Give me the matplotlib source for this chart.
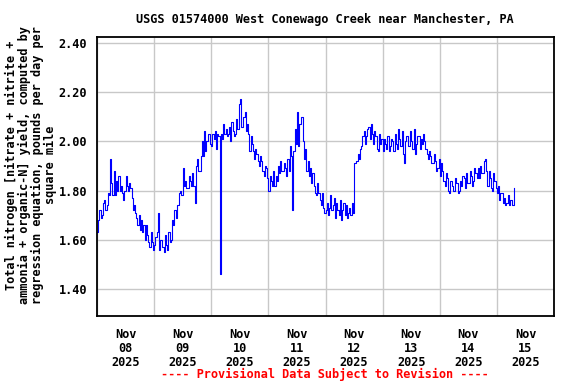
import matplotlib
matplotlib.use("Agg")
import matplotlib.pyplot as plt
import matplotlib.dates as mdates
import pandas as pd

# half-hourly values, one row per hour
nov08 = [1.63, 1.68, 1.72, 1.69, 1.70, 1.75, 1.76, 1.72, 1.74, 1.79, 1.78, 1.93,
         1.83, 1.78, 1.88, 1.78, 1.84, 1.80, 1.86, 1.80, 1.82, 1.79, 1.76, 1.80,
         1.86, 1.82, 1.80, 1.83, 1.81, 1.77, 1.72, 1.74, 1.71, 1.69, 1.66, 1.70,
         1.64, 1.68, 1.63, 1.66, 1.60, 1.66, 1.62, 1.59, 1.57, 1.63, 1.59, 1.56]
nov09 = [1.58, 1.61, 1.63, 1.71, 1.56, 1.60, 1.60, 1.57, 1.55, 1.62, 1.58, 1.56,
         1.63, 1.59, 1.60, 1.68, 1.66, 1.72, 1.69, 1.74, 1.74, 1.79, 1.80, 1.78,
         1.89, 1.82, 1.84, 1.81, 1.81, 1.86, 1.84, 1.82, 1.87, 1.82, 1.75, 1.90,
         1.93, 1.88, 1.88, 1.94, 2.00, 1.94, 2.04, 1.96, 2.00, 2.03, 2.03, 1.99]
nov10 = [1.98, 2.03, 2.01, 2.04, 1.97, 2.03, 2.02, 1.46, 2.03, 2.01, 2.07, 2.03,
         2.05, 2.02, 2.03, 2.06, 2.00, 2.08, 2.04, 2.02, 2.03, 2.09, 2.05, 2.15,
         2.17, 2.06, 2.06, 2.10, 2.12, 2.04, 2.07, 2.03, 1.96, 2.02, 1.99, 1.96,
         1.93, 1.97, 1.95, 1.92, 1.90, 1.94, 1.92, 1.88, 1.86, 1.90, 1.89, 1.85]
nov11 = [1.80, 1.86, 1.84, 1.82, 1.88, 1.82, 1.86, 1.84, 1.90, 1.87, 1.92, 1.88,
         1.88, 1.91, 1.89, 1.86, 1.93, 1.88, 1.98, 1.94, 1.72, 1.96, 2.05, 1.99,
         2.12, 1.98, 2.07, 2.10, 2.10, 2.00, 1.93, 1.97, 1.88, 1.92, 1.86, 1.89,
         1.83, 1.87, 1.82, 1.79, 1.78, 1.83, 1.79, 1.76, 1.74, 1.79, 1.73, 1.71]
nov12 = [1.72, 1.75, 1.70, 1.73, 1.78, 1.72, 1.74, 1.77, 1.69, 1.75, 1.72, 1.70,
         1.76, 1.68, 1.72, 1.75, 1.70, 1.74, 1.69, 1.71, 1.73, 1.70, 1.75, 1.71,
         1.91, 1.91, 1.92, 1.95, 1.93, 1.97, 1.98, 2.02, 2.04, 1.99, 2.02, 2.05,
         2.06, 2.01, 2.07, 2.03, 1.99, 2.04, 2.02, 1.97, 1.96, 2.03, 1.99, 2.01]
nov13 = [1.96, 2.01, 1.99, 1.97, 2.02, 1.96, 1.98, 2.01, 2.00, 1.96, 2.03, 1.99,
         1.97, 2.05, 2.01, 1.98, 2.04, 1.95, 1.91, 2.00, 2.02, 1.98, 1.98, 2.04,
         2.00, 1.97, 2.05, 1.95, 1.99, 2.02, 2.02, 1.97, 2.01, 1.99, 2.03, 2.00,
         1.97, 1.95, 1.93, 1.96, 1.94, 1.91, 1.91, 1.95, 1.92, 1.88, 1.89, 1.93]
nov14 = [1.86, 1.91, 1.88, 1.84, 1.82, 1.87, 1.85, 1.80, 1.79, 1.84, 1.82, 1.80,
         1.80, 1.85, 1.83, 1.79, 1.80, 1.84, 1.82, 1.86, 1.85, 1.81, 1.87, 1.83,
         1.83, 1.88, 1.86, 1.82, 1.84, 1.89, 1.87, 1.85, 1.89, 1.85, 1.90, 1.87,
         1.87, 1.92, 1.93, 1.88, 1.82, 1.88, 1.85, 1.81, 1.80, 1.87, 1.84, 1.81]
nov15 = [1.79, 1.82, 1.76, 1.79, 1.79, 1.75, 1.77, 1.74, 1.75, 1.78, 1.74, 1.76,
         1.76, 1.74, 1.81]

yield_vals = nov08 + nov09 + nov10 + nov11 + nov12 + nov13 + nov14 + nov15
times = pd.date_range("2025-11-08 00:00", periods=len(yield_vals), freq="30min")

yticks = [1.40, 1.60, 1.80, 2.00, 2.20, 2.40]
title = "USGS 01574000 West Conewago Creek near Manchester, PA"
ylab = ("Total nitrogen [nitrate + nitrite +\n"
        "ammonia + organic-N] yield, computed by\n"
        "regression equation, pounds per day per\n"
        "square mile")
footer = "---- Provisional Data Subject to Revision ----"

fnt = {"family": "DejaVu Sans Mono", "weight": "bold", "size": 8.6}

fig = plt.figure(figsize=(5.76, 3.84), dpi=100)
ax = fig.add_axes([97/576, 1-316/384, 457/576, 279/384])

ax.plot(times, yield_vals, color="#0000ff", lw=0.8, drawstyle="steps-post")

ax.set_xlim(pd.Timestamp("2025-11-08"), pd.Timestamp("2025-11-16"))
ax.set_ylim(1.29, 2.424)
ax.set_yticks(yticks)
ax.set_yticklabels(["%.2f" % v for v in yticks], fontdict=fnt)

ax.xaxis.set_major_locator(mdates.DayLocator())
ax.xaxis.set_major_formatter(plt.NullFormatter())
ax.xaxis.set_minor_locator(mdates.HourLocator(byhour=12))
ax.xaxis.set_minor_formatter(mdates.DateFormatter("%b\n%d\n%Y"))
for lab in ax.get_xticklabels(minor=True):
    lab.set_fontfamily("DejaVu Sans Mono")
    lab.set_fontweight("bold")
    lab.set_fontsize(8.6)
    lab.set_linespacing(1.1)

ax.tick_params(axis="both", which="both", length=0)
ax.tick_params(axis="x", which="minor", pad=9)
ax.tick_params(axis="y", pad=7)
ax.grid(True, which="major", color="#c8c8c8", lw=1.0)
ax.set_axisbelow(True)
for sp in ax.spines.values():
    sp.set_linewidth(1.3)
    sp.set_color("black")

fig.text(325/576, 1-20/384, title, ha="center", va="center", fontdict=fnt)
fig.text(31/576, 1-165/384, ylab, rotation=90, ha="center", va="center",
         multialignment="center", linespacing=1.0, fontdict=fnt)
fig.text(325/576, 1-374/384, footer, ha="center", va="center", color="red",
         fontdict=fnt)

fig.savefig("out.png", dpi=100)
